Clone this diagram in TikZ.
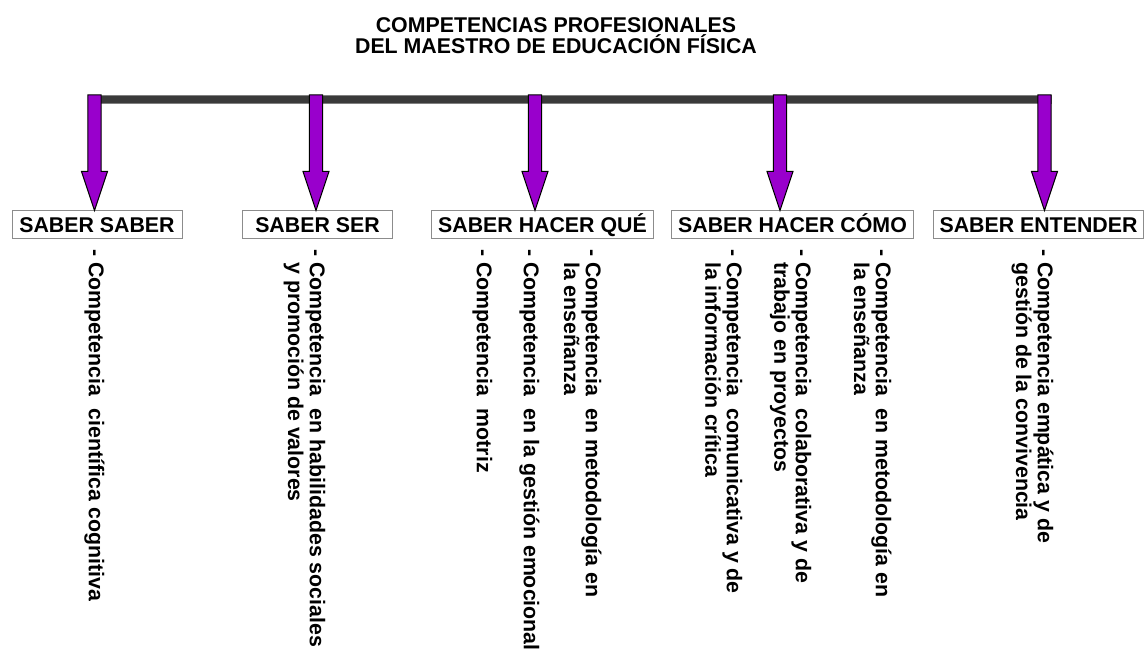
\documentclass[tikz,border=0pt]{standalone}
\usepackage{fontspec}
\setmainfont{Liberation Sans}
\usepackage{tikz}
\usetikzlibrary{calc}

\begin{document}
\begin{tikzpicture}[x=0.75pt,y=-0.75pt]
	\definecolor{cpmorado}{RGB}{153,0,204}
	\definecolor{cpbarra}{RGB}{58,58,58}
	\tikzset{
		titulo/.style={
			anchor=north, align=center, inner sep=0pt,
			font=\bfseries\fontsize{16pt}{16pt}\selectfont
		},
		caja/.style={
			draw=black!45, fill=white, line width=0.75pt,
			text height=11.5pt, text depth=0pt, inner ysep=4.4pt,
			font=\bfseries\fontsize{16pt}{16pt}\selectfont
		},
		barra/.style={
			fill=cpbarra, draw=black!50, line width=0.6pt
		},
		flecha/.style={
			draw=black, line width=0.75pt, fill=cpmorado,
			to path={let \p1=(\tikztostart), \p2=(\tikztotarget) in
				(\x1-4.9pt,\y1) -- (\x1-4.9pt,\y2+29.25pt) -- (\x1-9.75pt,\y2+29.25pt)
				-- (\x1,\y2) -- (\x1+9.75pt,\y2+29.25pt) -- (\x1+4.9pt,\y2+29.25pt)
				-- (\x1+4.9pt,\y1) -- cycle}
		},
		comp/.style={
			rotate=-90, anchor=north west, align=left, inner sep=0pt,
			font=\bfseries\fontsize{16pt}{16.3pt}\selectfont
		}
	}
	\useasboundingbox (0,0) rectangle (1145,652);
	
	% ======= Título =======
	\node[titulo] (tit) at (556,17) {COMPETENCIAS PROFESIONALES\\DEL MAESTRO DE EDUCACIÓN FÍSICA};
	
	% ======= Barra horizontal =======
	\draw[barra] (88,95) rectangle (1051,103);
	
	\coordinate (c1) at ( 94.5,95);
	\coordinate (c2) at (316.0,95);
	\coordinate (c3) at (535.0,95);
	\coordinate (c4) at (780.0,95);
	\coordinate (c5) at (1044.5,95);
	
	% ======= Saberes =======
	\node[caja, minimum width=127.5pt] (ss) at (  97.0,224.5) {SABER SABER};
	\node[caja, minimum width=111.8pt] (se) at ( 317.5,224.5) {SABER SER};
	\node[caja, minimum width=165.8pt] (hq) at ( 542.5,224.5) {SABER HACER QUÉ};
	\node[caja, minimum width=180.8pt] (hc) at ( 792.5,224.5) {SABER HACER CÓMO};
	\node[caja, minimum width=156.8pt] (en) at (1038.5,224.5) {SABER ENTENDER};
	
	\draw[flecha] (c1) to (c1 |- ss.north);
	\draw[flecha] (c2) to (c2 |- se.north);
	\draw[flecha] (c3) to (c3 |- hq.north);
	\draw[flecha] (c4) to (c4 |- hc.north);
	\draw[flecha] (c5) to (c5 |- en.north);
	
	% ======= Competencias =======
	\node[comp] (k1) at ( 104.7,249) {- Competencia\hspace{5pt} científica cognitiva};
	\node[comp] (k2) at ( 325.7,249) {- Competencia\hspace{5pt} en habilidades sociales\\\phantom{- }y promoción de valores};
	\node[comp] (k3) at ( 492.7,249) {- Competencia\hspace{5pt} motriz};
	\node[comp] (k4) at ( 539.7,249) {- Competencia\hspace{5pt} en la gestión emocional};
	\node[comp] (k5) at ( 601.7,249) {- Competencia\hspace{5pt} en metodología en\\\phantom{- }la enseñanza};
	\node[comp] (k6) at ( 742.7,249) {- Competencia\hspace{5pt} comunicativa y de\\\phantom{- }la información crítica};
	\node[comp] (k7) at ( 811.7,249) {- Competencia\hspace{5pt} colaborativa y de\\\phantom{- }trabajo en proyectos};
	\node[comp] (k8) at ( 891.7,249) {- Competencia\hspace{5pt} en metodología en\\\phantom{- }la enseñanza};
	\node[comp] (k9) at (1053.7,249) {- Competencia empática y de\\\phantom{- }gestión de la convivencia};
	
\end{tikzpicture}
\end{document}
